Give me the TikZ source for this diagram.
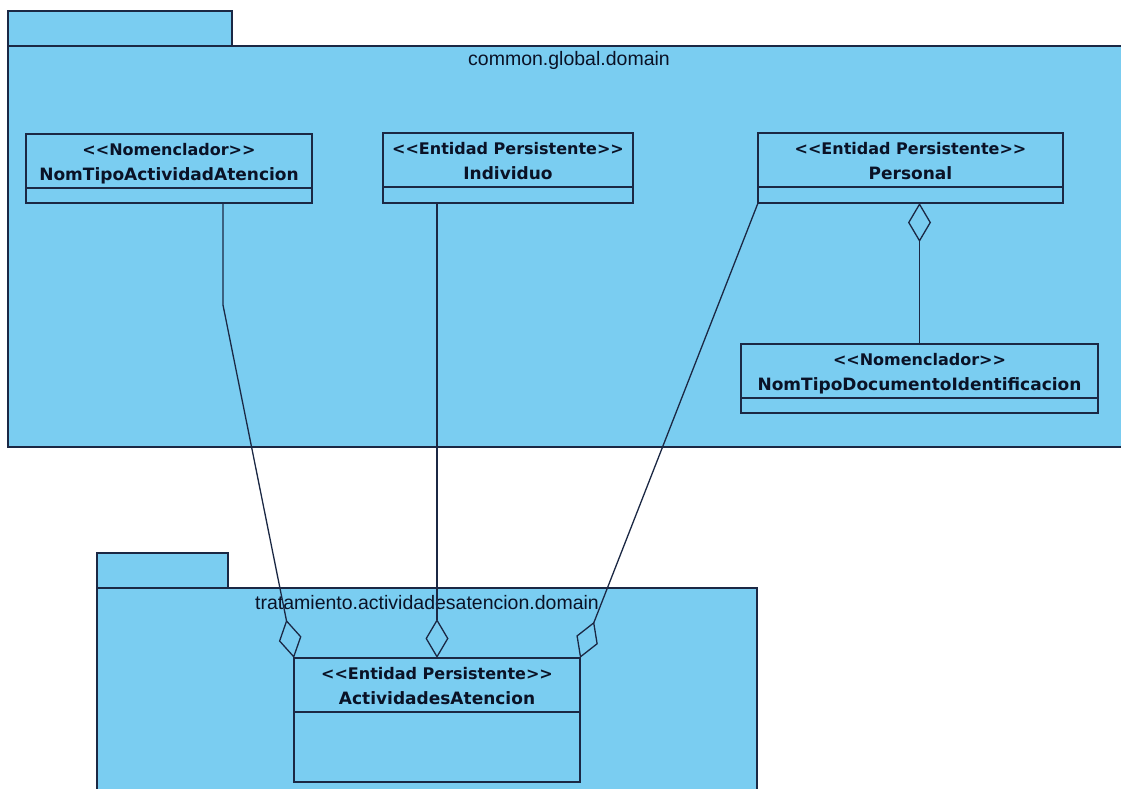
\documentclass[tikz,border=0pt]{standalone}
\usepackage{fontspec}
\setmainfont{Liberation Sans}
\newfontfamily\classfont{DejaVu Sans}
\usetikzlibrary{arrows.meta}

\definecolor{pkgfill}{RGB}{122,205,241}
\definecolor{inkline}{RGB}{27,40,68}
\definecolor{inktext}{RGB}{10,18,38}

\tikzset{
  pkg/.style={draw=inkline, fill=pkgfill, line width=1.6pt},
  pkglabel/.style={inner sep=0pt, text=inktext, font=\fontsize{19.5}{22}\selectfont},
  umlclass/.style={draw=inkline, fill=pkgfill, line width=1.6pt, anchor=north west,
    inner sep=0pt, outer sep=0pt},
  ctext/.style={anchor=base, inner sep=0pt, text=inktext,
    font=\classfont\bfseries\fontsize{17}{19}\selectfont},
  stereo/.style={ctext, font=\classfont\bfseries\fontsize{16}{19}\selectfont},
  divider/.style={draw=inkline, line width=1.5pt},
  agg/.style={draw=inkline, line width=1.3pt,
    -{Diamond[open, length=39pt, width=23pt]}},
}

% class box: name, x, y, width, height, stereotype, class name
\newcommand\umlclassbox[7]{%
  \node[umlclass, minimum width=#4pt, minimum height=#5pt] (#1) at (#2,#3) {};
  \draw[divider] ([yshift=-54pt]#1.north west) -- ([yshift=-54pt]#1.north east);
  \node[stereo] at ([yshift=-21pt]#1.north) {#6};
  \node[ctext] at ([yshift=-46pt]#1.north) {#7};
}

\begin{document}
\begin{tikzpicture}[x=1pt, y=-1pt]
  \useasboundingbox (0,0) rectangle (1121,789);
  \clip (0,0) rectangle (1121,789);
  \fill[white] (0,0) rectangle (1121,789);

  % package common.global.domain
  \draw[pkg] (8,11) rectangle (232,46);
  \draw[pkg] (8,46) rectangle (1135,447);
  \node[pkglabel] (lblA) at (569,60) {common.global.domain};

  % package tratamiento.actividadesatencion.domain
  \draw[pkg] (97,553) rectangle (228,588);
  \draw[pkg] (97,588) rectangle (757,800);
  \node[pkglabel] (lblB) at (427,603) {tratamiento.actividadesatencion.domain};

  % classes
  \umlclassbox{nta}{26}{134}{286}{69}{<<Nomenclador>>}{NomTipoActividadAtencion}
  \umlclassbox{ind}{383}{133}{250}{70}{<<Entidad Persistente>>}{Individuo}
  \umlclassbox{per}{758}{133}{305}{70}{<<Entidad Persistente>>}{Personal}
  \umlclassbox{doc}{741}{344}{357}{69}{<<Nomenclador>>}{NomTipoDocumentoIdentificacion}
  \umlclassbox{act}{294}{658}{286}{124}{<<Entidad Persistente>>}{ActividadesAtencion}

  % aggregations
  \coordinate (bend) at (223,305);
  \draw[agg] (nta.south -| bend) -- (bend) -- (act.north west);
  \draw[agg] (ind.south -| act.north) -- (act.north);
  \draw[agg] (per.south west) -- (act.north east);
  \draw[agg] (doc.north) -- (doc.north |- per.south);
\end{tikzpicture}
\end{document}
